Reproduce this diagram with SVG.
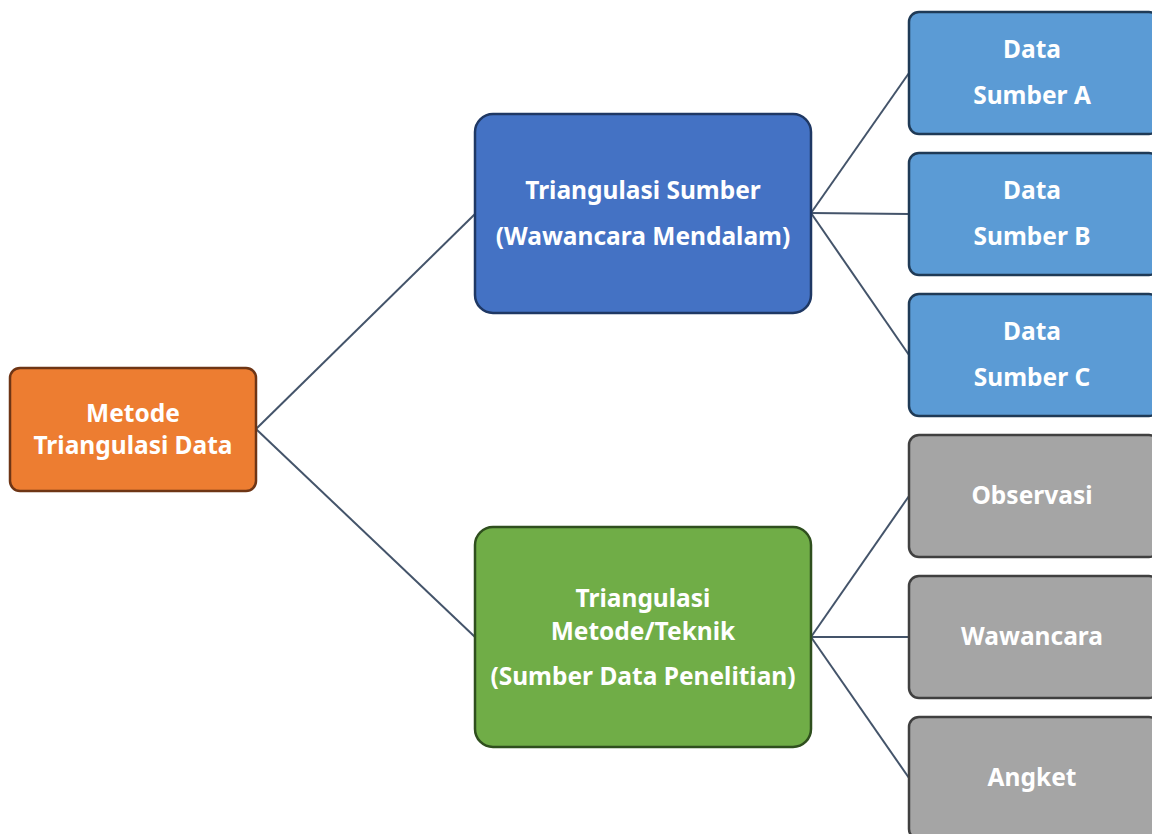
<svg xmlns="http://www.w3.org/2000/svg" width="1152" height="834" viewBox="0 0 1152 834">
<style>
.box{stroke-width:2.5}
.t{font-family:"Noto Sans","Open Sans","Liberation Sans",sans-serif;font-weight:bold;font-size:24.5px;fill:#fff;text-anchor:middle}
.root{fill:#ED7D31;stroke:#6E3515}
.src{fill:#4472C4;stroke:#1F3864}
.met{fill:#70AD47;stroke:#2F4F1E}
.leafb{fill:#5B9BD5;stroke:#1F3A56}
.leafg{fill:#A5A5A5;stroke:#404040}
.c{stroke:#44546A;stroke-width:2;fill:none}
</style>
<rect width="1152" height="834" fill="#fff"/>
<g id="connectors">
<line class="c" x1="256" y1="429" x2="475" y2="214"/>
<line class="c" x1="256" y1="429" x2="475" y2="637"/>
<line class="c" x1="811" y1="213" x2="909" y2="73"/>
<line class="c" x1="811" y1="213" x2="909" y2="214"/>
<line class="c" x1="811" y1="213" x2="909" y2="355"/>
<line class="c" x1="811" y1="637" x2="909" y2="496"/>
<line class="c" x1="811" y1="637" x2="909" y2="637"/>
<line class="c" x1="811" y1="637" x2="909" y2="778"/>
</g>
<g id="n-root">
<rect class="box root" x="10" y="368" width="246" height="123" rx="10"/>
<text class="t" x="133" y="422">Metode</text>
<text class="t" x="133" y="454">Triangulasi Data</text>
</g>
<g id="n-sumber">
<rect class="box src" x="475" y="114" width="336" height="199" rx="18"/>
<text class="t" x="643" y="199">Triangulasi Sumber</text>
<text class="t" x="643" y="245">(Wawancara Mendalam)</text>
</g>
<g id="n-metode">
<rect class="box met" x="475" y="527" width="336" height="220" rx="18"/>
<text class="t" x="643" y="607">Triangulasi</text>
<text class="t" x="643" y="640">Metode/Teknik</text>
<text class="t" x="643" y="685">(Sumber Data Penelitian)</text>
</g>
<g id="n-a">
<rect class="box leafb" x="909" y="12" width="250" height="122" rx="10"/>
<text class="t" x="1032" y="58">Data</text>
<text class="t" x="1032" y="104">Sumber A</text>
</g>
<g id="n-b">
<rect class="box leafb" x="909" y="153" width="250" height="122" rx="10"/>
<text class="t" x="1032" y="199">Data</text>
<text class="t" x="1032" y="245">Sumber B</text>
</g>
<g id="n-c">
<rect class="box leafb" x="909" y="294" width="250" height="122" rx="10"/>
<text class="t" x="1032" y="340">Data</text>
<text class="t" x="1032" y="386">Sumber C</text>
</g>
<g id="n-obs">
<rect class="box leafg" x="909" y="435" width="250" height="122" rx="10"/>
<text class="t" x="1032" y="504">Observasi</text>
</g>
<g id="n-waw">
<rect class="box leafg" x="909" y="576" width="250" height="122" rx="10"/>
<text class="t" x="1032" y="645">Wawancara</text>
</g>
<g id="n-ang">
<rect class="box leafg" x="909" y="717" width="250" height="122" rx="10"/>
<text class="t" x="1032" y="786">Angket</text>
</g>
</svg>
